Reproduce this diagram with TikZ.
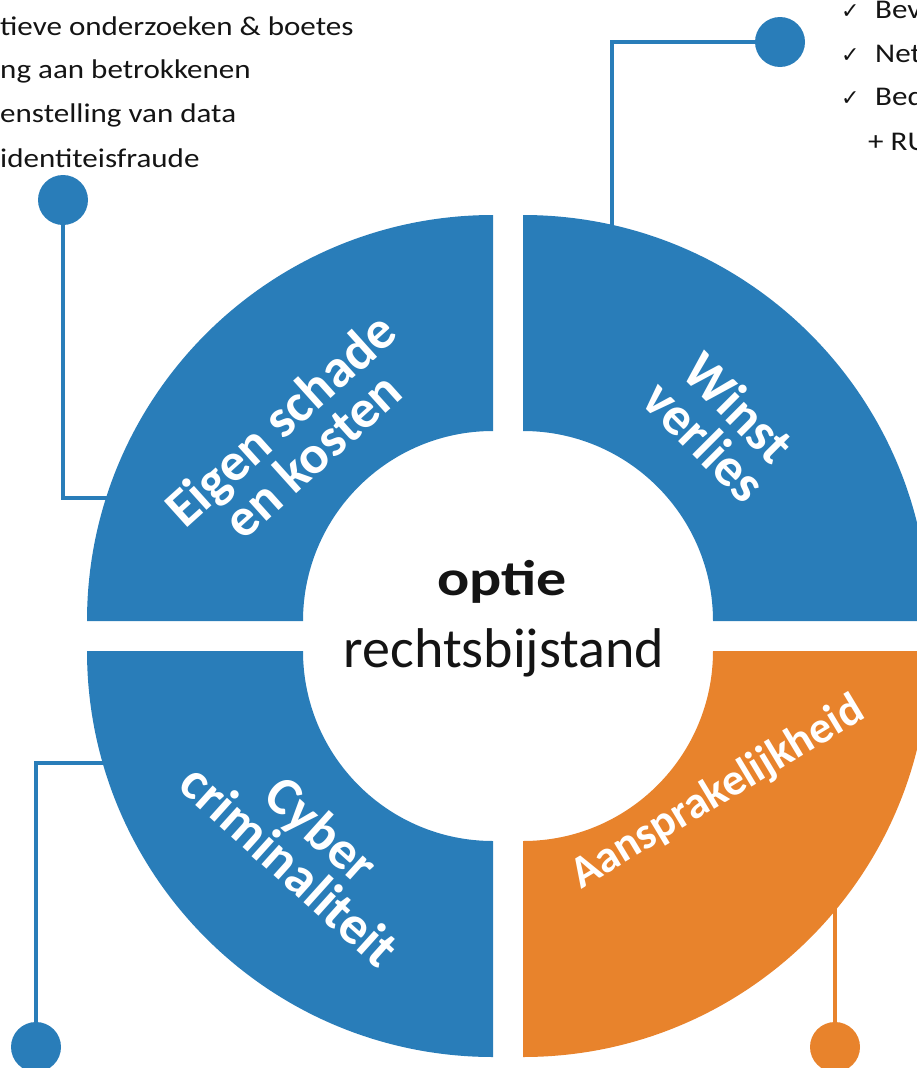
\documentclass[tikz,border=0pt]{standalone}
\usepackage{fontspec}
\setmainfont{Carlito}
\newfontfamily\widefont[FakeStretch=1.15]{Carlito}
\newfontfamily\optiefont[FakeStretch=1.2]{Carlito}
\newfontfamily\dejavu{DejaVu Sans}
\definecolor{ringblue}{RGB}{41,125,185}
\definecolor{ringorange}{RGB}{232,131,44}
\definecolor{txtgrey}{RGB}{20,20,20}
\begin{document}
\begin{tikzpicture}[x=1pt,y=1pt,
  conn/.style={draw=#1, line width=3.5pt},
  dot/.style={circle, fill=#1, minimum size=50pt, inner sep=0pt},
  lbl/.style={text=white, font=\bfseries\fontsize{54}{48}\selectfont, align=center},
  lefttxt/.style={anchor=base west, text=txtgrey, font=\widefont\fontsize{27}{29}\selectfont, inner sep=0pt},
  chk/.style={anchor=base west, text=txtgrey, font=\dejavu\fontsize{22}{24}\selectfont, inner sep=0pt}]
\useasboundingbox (0,0) rectangle (917,-1068);
% ring quadrants
\fill[ringblue] (303,-621) -- ++(-216,0) arc[start angle=180,end angle=90,radius=406] -- ++(0,-216) arc[start angle=90,end angle=180,radius=190] -- cycle;
\fill[ringblue] (713,-621) -- ++(216,0) arc[start angle=0,end angle=90,radius=406] -- ++(0,-216) arc[start angle=90,end angle=0,radius=190] -- cycle;
\fill[ringblue] (303,-651) -- ++(-216,0) arc[start angle=180,end angle=270,radius=406] -- ++(0,216) arc[start angle=270,end angle=180,radius=190] -- cycle;
\fill[ringorange] (713,-651) -- ++(216,0) arc[start angle=0,end angle=-90,radius=406] -- ++(0,216) arc[start angle=-90,end angle=0,radius=190] -- cycle;
% labels
\node[lbl, rotate=42] (tl) at (296,-437) {Eigen schade\\en kosten};
\node[lbl, rotate=-45] (tr) at (722,-424) {Winst\\verlies};
\node[lbl, rotate=-42] (bl) at (306,-847) {Cyber\\criminaliteit};
\node[lbl, rotate=31, font=\bfseries\fontsize{45}{48}\selectfont] (br) at (718,-793) {Aansprakelijkheid};
% centre
\node[anchor=base, text=txtgrey, font=\optiefont\bfseries\fontsize{50}{52}\selectfont, inner sep=0pt] (optie) at (502,-595) {optie};
\node[anchor=base, text=txtgrey, font=\fontsize{56}{58}\selectfont, inner sep=0pt] (rb) at (504,-667) {rechtsbijstand};
% connectors
\node[dot=ringblue] (d1) at (63,-200) {};
\coordinate (e1) at (107,-498);
\draw[conn=ringblue] (d1.center) |- (e1);
\node[dot=ringblue] (d2) at (780,-42) {};
\coordinate (e2) at (612,-228);
\draw[conn=ringblue] (d2.center) -| (e2);
\node[dot=ringblue] (d3) at (36,-1047) {};
\coordinate (e3) at (103,-763);
\draw[conn=ringblue] (d3.center) |- (e3);
\node[dot=ringorange] (d4) at (835,-1047) {};
\coordinate (e4) at (835,-895);
\draw[conn=ringorange] (d4.center) -- (e4);
% left text
\node[lefttxt] (t1) at (0,-35) {tieve onderzoeken \& boetes};
\node[lefttxt] (t2) at (0,-78) {ng aan betrokkenen};
\node[lefttxt] (t3) at (0,-122) {enstelling van data};
\node[lefttxt] (t4) at (0,-167) {identiteisfraude};
% right text
\node[chk] (c1) at (841,-18) {✓};
\node[lefttxt] (r1) at (875,-18) {Bev};
\node[chk] (c2) at (841,-62) {✓};
\node[lefttxt] (r2) at (875,-62) {Net};
\node[chk] (c3) at (841,-105) {✓};
\node[lefttxt] (r3) at (875,-105) {Bed};
\node[lefttxt] (r4) at (868,-150) {+ RU};
\end{tikzpicture}
\end{document}
